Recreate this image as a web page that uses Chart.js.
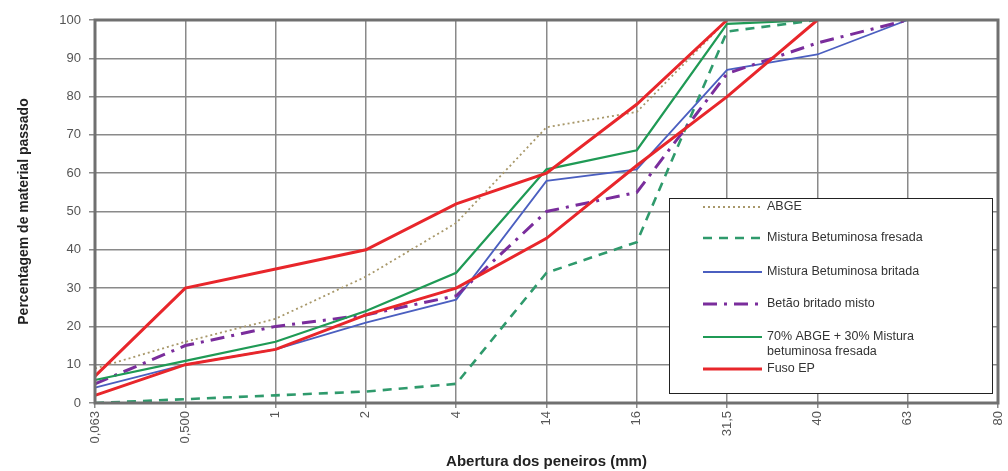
<!DOCTYPE html>
<html>
<head>
<meta charset="utf-8">
<script src="https://cdn.jsdelivr.net/npm/chart.js@4"></script>
<style>
  html, body { margin: 0; padding: 0; background: #fff; }
  #wrap { width: 1008px; height: 471px; }
</style>
</head>
<body>
<div id="wrap"><canvas id="grading"></canvas></div>
<script>
// sieve openings (mm) and % passing
const sieves = ['0,063', '0,500', '1', '2', '4', '14', '16', '31,5', '40', '63', '80'];
const yTicks = [0, 10, 20, 30, 40, 50, 60, 70, 80, 90, 100];

const abge      = [9, 16, 22, 33, 47, 72, 76, 100, 100, null, null];
const fresada   = [0, 1, 2, 3, 5, 34, 42, 97, 100, null, null];
const britada   = [4, 10, 14, 21, 27, 58, 61, 87, 91, 100, null];
const betao     = [5, 15, 20, 23, 28, 50, 55, 86, 94, 100, null];
const mix70_30  = [6, 11, 16, 24, 34, 61, 66, 99, 100, null, null];
const fusoUpper = [7, 30, 35, 40, 52, 60, 78, 100, null, null, null];
const fusoLower = [2, 10, 14, 23, 30, 43, 62, 80, 100, null, null];

const FONT = '"Liberation Sans", Arial, sans-serif';

function line(label, data, color, width, dash, order, extra) {
    return Object.assign({
        label: label,
        data: data,
        borderColor: color,
        backgroundColor: color,
        borderWidth: width,
        borderDash: dash,
        pointRadius: 0,
        tension: 0,
        fill: false,
        spanGaps: false,
        order: order
    }, extra || {});
}

// legend box drawn inside the plot, bottom right
const boxLegend = {
    id: 'boxLegend',
    afterDatasetsDraw(chart) {
        const ctx = chart.ctx;
        const x0 = 669, y0 = 198, x1 = 992, y1 = 393;
        ctx.save();
        ctx.fillStyle = '#fff';
        ctx.fillRect(x0, y0, x1 - x0, y1 - y0);
        ctx.strokeStyle = '#222';
        ctx.lineWidth = 1;
        ctx.strokeRect(x0 + 0.5, y0 + 0.5, x1 - x0, y1 - y0);

        const rows = [207, 238, 272, 304, 337, 369];
        let r = 0;
        chart.data.datasets.forEach(ds => {
            if (ds.hideInLegend) return;
            const y = rows[r++];
            ctx.beginPath();
            ctx.strokeStyle = ds.borderColor;
            ctx.lineWidth = ds.borderWidth;
            ctx.setLineDash(ds.borderDash || []);
            ctx.moveTo(703, y);
            ctx.lineTo(762, y);
            ctx.stroke();
            ctx.setLineDash([]);
            ctx.fillStyle = '#333';
            ctx.font = '12.5px ' + FONT;
            ctx.textBaseline = 'middle';
            const lines = Array.isArray(ds.legendText) ? ds.legendText : [ds.label];
            lines.forEach((t, i) => ctx.fillText(t, 767, y + i * 15));
        });
        ctx.restore();
    },
    afterDraw(chart) {
        // heavy frame round the plot area
        const a = chart.chartArea, ctx = chart.ctx;
        ctx.save();
        ctx.strokeStyle = '#707070';
        ctx.lineWidth = 3;
        ctx.strokeRect(a.left, a.top, a.right - a.left, a.bottom - a.top);
        ctx.restore();
    }
};

new Chart(document.getElementById('grading'), {
    type: 'line',
    data: {
        labels: sieves,
        datasets: [
            line('ABGE', abge, '#a8986a', 1.8, [2, 3], 5),
            line('Mistura Betuminosa fresada', fresada, '#2f9a6c', 2.6, [9, 7], 4),
            line('Mistura Betuminosa britada', britada, '#4b5fc0', 1.8, [], 3),
            line('Betão britado misto', betao, '#7a2d9c', 3, [14, 7, 3, 7], 2),
            line('70% ABGE + 30% Mistura betuminosa fresada', mix70_30, '#1f9a55', 2.2, [], 1,
                 { legendText: ['70% ABGE + 30% Mistura', 'betuminosa fresada'] }),
            line('Fuso EP', fusoUpper, '#e8262b', 3, [], 0),
            line('Fuso EP', fusoLower, '#e8262b', 3, [], 0, { hideInLegend: true })
        ]
    },
    options: {
        responsive: true,
        maintainAspectRatio: false,
        animation: false,
        layout: { padding: { top: 20, right: 10, left: 0, bottom: 0 } },
        plugins: {
            legend: { display: false },
            tooltip: { enabled: false }
        },
        scales: {
            x: {
                type: 'category',
                offset: false,
                grid: { color: '#8a8a8a', lineWidth: 1.5, tickLength: 5, tickColor: '#8a8a8a' },
                border: { display: false },
                ticks: {
                    autoSkip: false,
                    minRotation: 90,
                    maxRotation: 90,
                    padding: 3,
                    color: '#555',
                    font: { family: FONT, size: 13 }
                },
                title: {
                    display: true,
                    text: 'Abertura dos peneiros (mm)',
                    color: '#222',
                    font: { family: FONT, size: 15, weight: 'bold' },
                    padding: { top: 2, bottom: 0 }
                },
                afterFit(scale) {
                    scale.height = 68;
                    // rotated end labels should not shrink the plot
                    scale.paddingLeft = 0;
                    scale.paddingRight = 0;
                }
            },
            y: {
                min: 0,
                max: 100,
                afterBuildTicks(scale) { scale.ticks = yTicks.map(v => ({ value: v })); },
                grid: { color: '#8a8a8a', lineWidth: 1.5, tickLength: 6, tickColor: '#8a8a8a' },
                border: { display: false },
                ticks: {
                    padding: 8,
                    color: '#555',
                    font: { family: FONT, size: 13 }
                },
                title: {
                    display: true,
                    text: 'Percentagem de material passado',
                    color: '#222',
                    font: { family: FONT, size: 14, weight: 'bold' },
                    padding: { top: 16, bottom: 0 }
                },
                afterFit(scale) { scale.width = 95; }
            }
        }
    },
    plugins: [boxLegend]
});
</script>
</body>
</html>
